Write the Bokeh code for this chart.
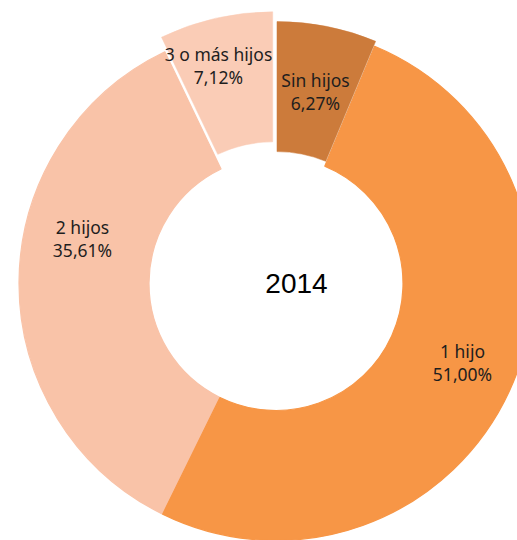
import math
from bokeh.plotting import figure
from bokeh.models import ColumnDataSource, Range1d
from bokeh.core.properties import value
from bokeh.embed import file_html
from bokeh.resources import INLINE

# ---- data ----
categories = ["Sin hijos", "1 hijo", "2 hijos", "3 o más hijos"]
percents = [6.27, 51.00, 35.61, 7.12]
year_label = "2014"

# ---- styles / layout ----
colors = ["#CC7B3B", "#F79646", "#F9C3A8", "#FACCB6"]
explode = [5, 0, 0, 15]                 # px offset along the bisector
label_pos = [(315, 91), (462, 362), (82, 238), (218, 65)]  # pixel centres
W, H = 517, 540
CX, CY = 275.5, 283.0                   # pixel centre of donut
R_IN, R_OUT = 127, 257

# pixel coords -> data coords: x = px, y = -py
p = figure(width=W, height=H, output_backend="svg", toolbar_location=None,
           x_range=Range1d(0, W), y_range=Range1d(-H, 0),
           min_border=0, outline_line_color=None)
p.axis.visible = False
p.grid.visible = False
p.background_fill_color = "white"
p.border_fill_color = "white"

total = sum(percents)
xs, ys, starts, ends, lws = [], [], [], [], []
cum = 0.0
for pct, d in zip(percents, explode):
    f0 = cum / total
    f1 = (cum + pct) / total
    cum += pct
    a0 = math.pi / 2 - f0 * 2 * math.pi
    a1 = math.pi / 2 - f1 * 2 * math.pi
    mid = (a0 + a1) / 2
    xs.append(CX + d * math.cos(mid))
    ys.append(-CY + d * math.sin(mid))
    starts.append(a0)
    ends.append(a1)
    lws.append(1.2 if d == 0 else 0.5)

# draw in reverse order so darker slices' edges cover the seams
src = ColumnDataSource(dict(x=xs[::-1], y=ys[::-1], start=starts[::-1],
                            end=ends[::-1], color=colors[::-1], lw=lws[::-1]))
p.annular_wedge(x="x", y="y", inner_radius=R_IN, outer_radius=R_OUT,
                start_angle="start", end_angle="end", direction="clock",
                fill_color="color", line_color="color", line_width="lw", source=src)

labels = [f"{c}\n{v:.2f}%".replace(".", ",") for c, v in zip(categories, percents)]
lsrc = ColumnDataSource(dict(x=[lp[0] for lp in label_pos],
                             y=[-lp[1] for lp in label_pos],
                             text=labels))
p.text(x="x", y="y", text="text", source=lsrc, text_align="center",
       text_baseline="middle", text_font=value("Noto Sans"),
       text_font_size="17.5px", text_color="#1e1e1e", text_line_height=0.98)

p.text(x=[296], y=[-283], text=[year_label], text_align="center",
       text_baseline="middle", text_font=value("Liberation Sans"),
       text_font_size="28px", text_color="#000000")

open("out.html", "w").write(file_html(p, INLINE))
